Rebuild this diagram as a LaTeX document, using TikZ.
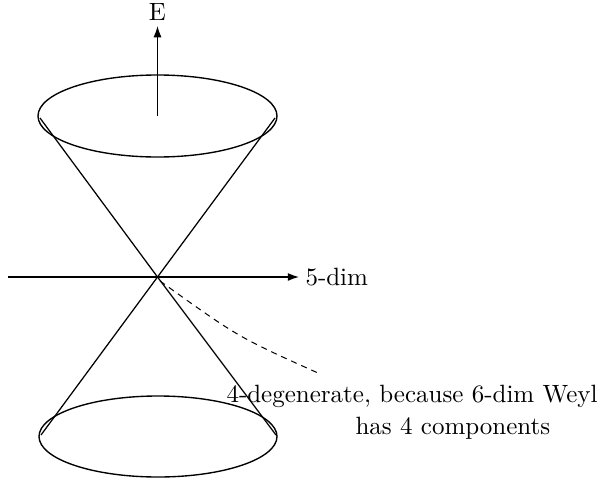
\documentclass[tikz,border=0pt]{standalone}
\usetikzlibrary{arrows.meta}
\begin{document}
\begin{tikzpicture}[x=0.4pt,y=-0.4pt,
  axis/.style={line width=0.5pt,-{Latex[length=4.5pt,width=3.2pt]}},
  rim/.style={line width=0.55pt},
  coneline/.style={line width=0.5pt},
  lbl/.style={inner sep=0pt,font=\normalsize}]
\useasboundingbox (0,0) rectangle (599,480);
\coordinate (O) at (157.5,277);
\coordinate (T) at (157.5,116);
\coordinate (B) at (158,436.5);
% ellipses
\draw[rim] (T) ellipse [x radius=119.5, y radius=41];
\draw[rim] (B) ellipse [x radius=119, y radius=40.5];
% cone lines
\coordinate (TL) at (40,118);
\coordinate (TR) at (275,118);
\coordinate (BL) at (41,435);
\coordinate (BR) at (276,435);
\draw[coneline] (TL) -- (O) -- (BR);
\draw[coneline] (TR) -- (O) -- (BL);
% axes
\node[lbl,anchor=base] (E) at (157.5,20) {E};
\coordinate (Etip) at (157.5,26);
\draw[axis] (T) -- (Etip);
\coordinate (Xs) at (8,277);
\coordinate (Xe) at (299,277);
\node[lbl,anchor=west] (dim) at (305,277) {5-dim};
\draw[axis] (Xs) -- (Xe);
% annotation
\coordinate (D) at (318,373);
\draw[line width=0.4pt,dash pattern=on 2.4pt off 2pt] (160,281) .. controls (238,337) .. (D);
\node[lbl,anchor=base west] (t1) at (226,402) {4-degenerate, because 6-dim Weyl};
\node[lbl,anchor=base west] (t2) at (355,434) {has 4 components};
\end{tikzpicture}
\end{document}
